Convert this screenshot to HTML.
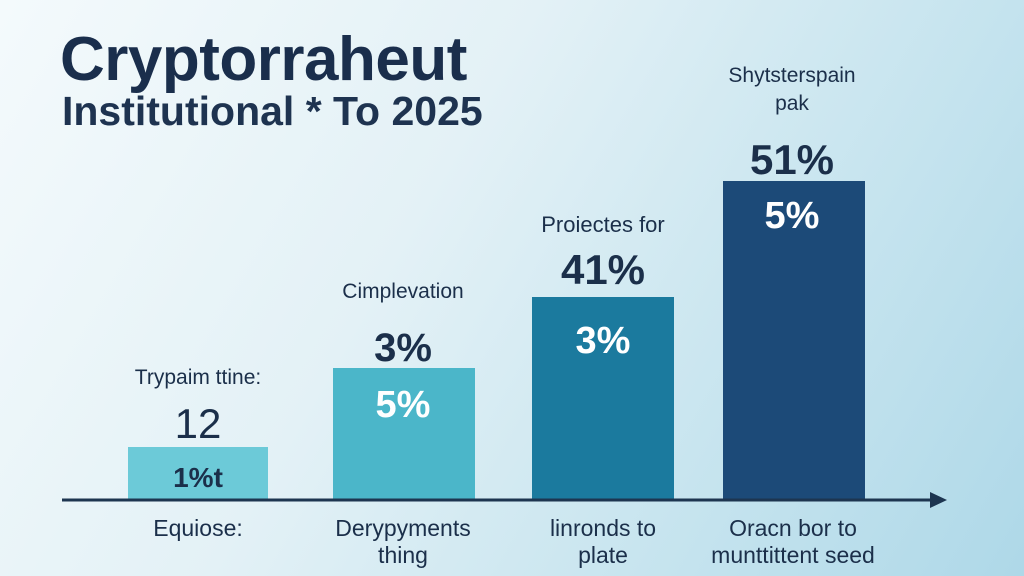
<!DOCTYPE html>
<html><head><meta charset="utf-8"><style>
html,body{margin:0;padding:0}
body{width:1024px;height:576px;overflow:hidden;position:relative;font-family:"Liberation Sans",sans-serif;
background:linear-gradient(120deg,#f4fafc 0%,#e3f1f6 40%,#c4e3ee 75%,#aed8e8 100%);}
.t{position:absolute;white-space:nowrap;color:#1b2f4a}
.c{transform:translateX(-50%);text-align:center}
.bar{position:absolute}
</style></head><body>
<div class="t" style="left:60px;top:24px;font-size:62px;font-weight:bold;letter-spacing:-0.5px;color:#1a2e4c">Cryptorraheut</div>
<div class="t" style="left:62px;top:88px;font-size:41px;font-weight:bold;color:#1e3350">Institutional * To 2025</div>

<div class="bar" style="left:128px;top:447px;width:140px;height:53px;background:#6ccad8"></div>
<div class="bar" style="left:333px;top:368px;width:142px;height:132px;background:#4bb6c9"></div>
<div class="bar" style="left:532px;top:297px;width:142px;height:203px;background:#1b7a9e"></div>
<div class="bar" style="left:723px;top:181px;width:142px;height:319px;background:#1c4a78"></div>

<svg style="position:absolute;left:0;top:0" width="1024" height="576">
<line x1="62" y1="500" x2="935" y2="500" stroke="#1d3550" stroke-width="3"/>
<polygon points="947,500 930,492 930,508" fill="#1d3550"/>
</svg>

<div class="t c" style="left:198px;top:366px;font-size:21px">Trypaim ttine:</div>
<div class="t c" style="left:198px;top:400px;font-size:42px">12</div>
<div class="t c" style="left:198px;top:462px;font-size:28px;font-weight:bold">1%t</div>

<div class="t c" style="left:403px;top:280px;font-size:21px">Cimplevation</div>
<div class="t c" style="left:403px;top:326px;font-size:40px;font-weight:bold">3%</div>
<div class="t c" style="left:403px;top:384px;font-size:38px;font-weight:bold;color:#fff">5%</div>

<div class="t c" style="left:603px;top:212px;font-size:22px">Proiectes for</div>
<div class="t c" style="left:603px;top:246px;font-size:42px;font-weight:bold">41%</div>
<div class="t c" style="left:603px;top:320px;font-size:38px;font-weight:bold;color:#fff">3%</div>

<div class="t c" style="left:792px;top:64px;font-size:21px">Shytsterspain</div>
<div class="t c" style="left:792px;top:92px;font-size:21px">pak</div>
<div class="t c" style="left:792px;top:136px;font-size:42px;font-weight:bold">51%</div>
<div class="t c" style="left:792px;top:195px;font-size:38px;font-weight:bold;color:#fff">5%</div>

<div class="t c" style="left:198px;top:515px;font-size:23px">Equiose:</div>
<div class="t c" style="left:403px;top:515px;font-size:23px;line-height:27px">Derypyments<br>thing</div>
<div class="t c" style="left:603px;top:515px;font-size:23px;line-height:27px">linronds to<br>plate</div>
<div class="t c" style="left:793px;top:515px;font-size:23px;line-height:27px">Oracn bor to<br>munttittent seed</div>
</body></html>
